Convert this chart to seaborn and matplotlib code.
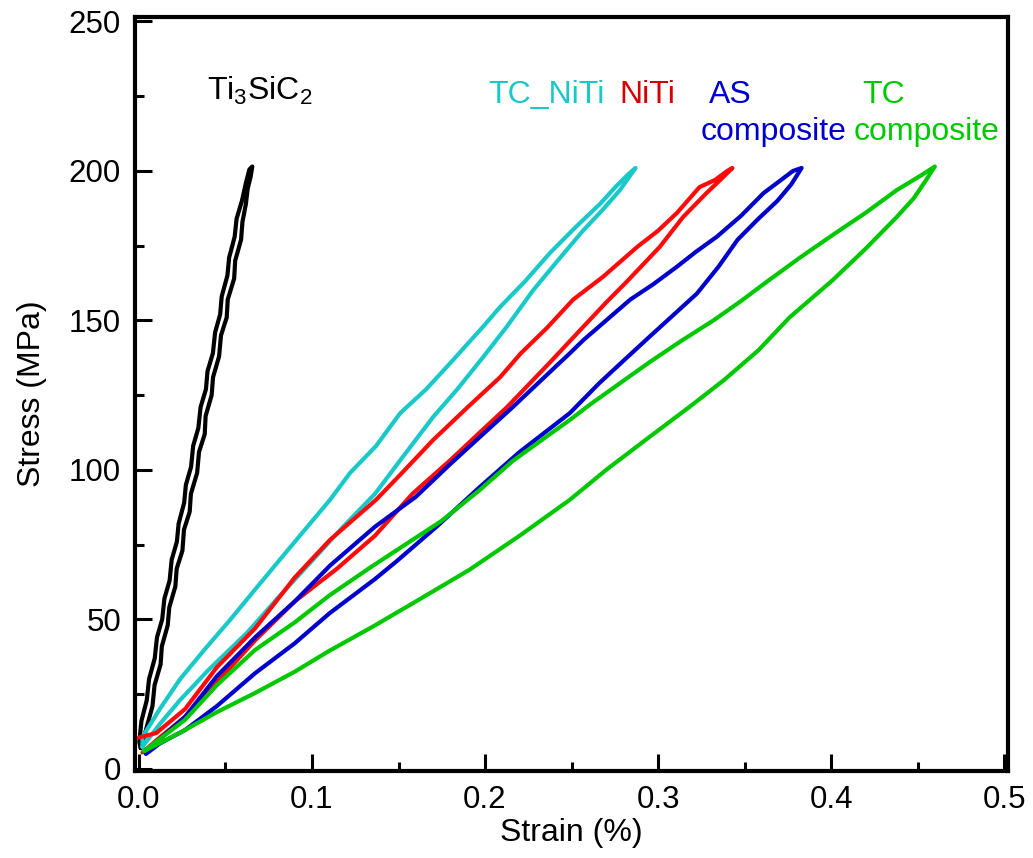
import matplotlib
matplotlib.use("Agg")
import matplotlib.pyplot as plt
from matplotlib.ticker import MultipleLocator, FormatStrFormatter
import seaborn as sns
import pandas as pd

# Stress-strain hysteresis loops: each path climbs the loading branch to the
# peak stress and returns along the unloading branch.
ti3sic2_strain = [0.001, 0.0040, 0.0078, 0.0090, 0.0125, 0.0132, 0.0166, 0.0175, 0.0210, 0.0218,
                  0.0251, 0.0260, 0.0293, 0.0300, 0.0336, 0.0347, 0.0380, 0.0385, 0.0420, 0.0428,
                  0.0463, 0.0474, 0.0507, 0.0513, 0.0550, 0.0556, 0.0590, 0.0598, 0.0618, 0.0628,
                  0.0645, 0.0655,
                  0.0638, 0.0618, 0.0595, 0.0564, 0.0553, 0.0521, 0.0511, 0.0478, 0.0469, 0.0440,
                  0.0427, 0.0396, 0.0387, 0.0356, 0.0343, 0.0313, 0.0301, 0.0271, 0.0261, 0.0229,
                  0.0219, 0.0189, 0.0177, 0.0147, 0.0134, 0.0104, 0.0091, 0.0058, 0.0045, 0.0014,
                  0.0002, 0.001]
ti3sic2_stress = [7, 13, 21, 28, 35, 41, 48, 54, 61, 67,
                  73, 80, 86, 92, 99, 106, 112, 118, 125, 131,
                  138, 145, 151, 157, 164, 170, 177, 183, 189, 194,
                  198, 201.5,
                  200.5, 196, 190, 184, 178, 171, 165, 158, 152, 146,
                  139, 133, 127, 121, 114, 108, 101, 95, 89, 82,
                  76, 70, 63, 57, 50, 44, 37, 30, 23, 16,
                  9, 7]

tc_niti_strain = [0.002, 0.012, 0.0237, 0.040, 0.0624, 0.080, 0.1006, 0.118, 0.1364, 0.152,
                  0.170, 0.184, 0.199, 0.2127, 0.2277, 0.242, 0.2566, 0.268, 0.278, 0.287,
                  0.283, 0.276, 0.2665, 0.252, 0.2376, 0.223, 0.2087, 0.199, 0.180, 0.166,
                  0.151, 0.137, 0.122, 0.1104, 0.093, 0.080, 0.0671, 0.0526, 0.038, 0.0237,
                  0.012, 0.002, 0.002]
tc_niti_stress = [7.4, 15, 23, 33, 45.5, 57, 70, 81, 92, 104,
                  117.7, 127, 137.8, 148, 160, 170, 180, 187, 193.6, 201,
                  199, 195, 189, 181, 172.6, 163, 154.5, 148, 135.8, 127,
                  119, 108, 99, 90, 78, 69, 60, 49.8, 40, 30,
                  20, 10.7, 7.4]

niti_strain = [0.002, 0.012, 0.0266, 0.045, 0.0671, 0.090, 0.1145, 0.1364, 0.158, 0.180,
               0.196, 0.2127, 0.2376, 0.257, 0.270, 0.282, 0.301, 0.3145, 0.328, 0.336,
               0.343,
               0.340, 0.333, 0.324, 0.311, 0.300, 0.288, 0.268, 0.251, 0.2358, 0.2207,
               0.2087, 0.190, 0.170, 0.152, 0.137, 0.1104, 0.090, 0.0671, 0.045, 0.0266,
               0.010, 0.000]
niti_stress = [5.5, 10.5, 17.4, 29, 43, 56, 67, 78, 92, 103.3,
               112, 121, 136, 148, 156, 163, 174.6, 184.6, 192.6, 197,
               201,
               200, 197, 194.6, 186, 180, 174.6, 164.5, 157, 147.5, 139,
               131, 121, 110, 99, 90, 76.6, 64, 47, 34, 20,
               12, 10.5]

as_comp_strain = [0.004, 0.012, 0.0266, 0.045, 0.0671, 0.090, 0.110, 0.1364, 0.149, 0.172,
                  0.197, 0.220, 0.249, 0.266, 0.280, 0.295, 0.3225, 0.335, 0.346, 0.358,
                  0.369, 0.377, 0.383,
                  0.378, 0.370, 0.361, 0.348, 0.334, 0.322, 0.311, 0.297, 0.284, 0.270,
                  0.257, 0.249, 0.2376, 0.216, 0.197, 0.180, 0.160, 0.1364, 0.1104, 0.090,
                  0.0671, 0.045, 0.0266, 0.012, 0.004]
as_comp_stress = [5, 8.5, 13, 21, 32, 42, 52, 63.5, 69.5, 81,
                  94.3, 106, 119, 129, 136.5, 144.5, 159, 168, 177, 184,
                  190, 195.5, 201,
                  200, 196.5, 192.6, 185, 178, 173, 168, 162, 157, 150,
                  143.5, 139, 132.8, 121, 111, 102, 91, 81, 68, 56,
                  44, 31, 17.4, 10, 6]

tc_comp_strain = [0.003, 0.015, 0.0266, 0.045, 0.0671, 0.090, 0.110, 0.1364, 0.160, 0.191,
                  0.220, 0.249, 0.270, 0.295, 0.318, 0.338, 0.358, 0.376, 0.390, 0.401,
                  0.420, 0.438, 0.448, 0.455, 0.460,
                  0.452, 0.438, 0.420, 0.401, 0.382, 0.363, 0.348, 0.332, 0.313, 0.295,
                  0.278, 0.261, 0.249, 0.2376, 0.216, 0.197, 0.175, 0.134, 0.110, 0.090,
                  0.0671, 0.045, 0.0266, 0.012, 0.003]
tc_comp_stress = [6, 9.5, 13, 19, 25.4, 32.5, 39.5, 48, 56, 66.6,
                  78, 90, 100, 111, 121, 130, 140, 151, 158, 163.5,
                  174, 184.6, 191, 197, 201.5,
                  198.5, 193.6, 186, 178.6, 171, 163, 156.5, 150, 143, 136,
                  129, 122, 116.7, 112, 103, 93.3, 83, 67.5, 58, 49,
                  39.8, 28, 16.4, 10, 6]

samples = ["Ti3SiC2", "TC_NiTi", "NiTi", "AS composite", "TC composite"]
line_colors = ["#000000", "#19c8c8", "#ff0a0a", "#0000cc", "#00c800"]

x_ticks = [0.0, 0.1, 0.2, 0.3, 0.4, 0.5]
y_ticks = [0, 50, 100, 150, 200, 250]

curves = {
    "Ti3SiC2": (ti3sic2_strain, ti3sic2_stress),
    "TC_NiTi": (tc_niti_strain, tc_niti_stress),
    "NiTi": (niti_strain, niti_stress),
    "AS composite": (as_comp_strain, as_comp_stress),
    "TC composite": (tc_comp_strain, tc_comp_stress),
}

frames = []
for name in samples:
    sx, sy = curves[name]
    frames.append(pd.DataFrame({"strain": sx, "stress": sy, "sample": name,
                                "step": range(len(sx))}))
df = pd.concat(frames, ignore_index=True)

sns.set_style("white")
plt.rcParams["font.family"] = ["Liberation Sans", "DejaVu Sans"]
plt.rcParams["mathtext.default"] = "regular"
plt.rcParams["text.color"] = "black"
plt.rcParams["axes.labelcolor"] = "black"
plt.rcParams["xtick.color"] = "black"
plt.rcParams["ytick.color"] = "black"

fig = plt.figure(figsize=(10.33, 8.58), dpi=100)
ax = fig.add_axes([0.1307, 0.1014, 0.8451, 0.8788])

sns.lineplot(data=df, x="strain", y="stress", hue="sample", units="sample",
             estimator=None, sort=False, palette=dict(zip(samples, line_colors)),
             linewidth=3.0, legend=False, ax=ax)

ax.set_xlim(-0.0023, 0.5023)
ax.set_ylim(-0.7, 251.5)
ax.set_xticks(x_ticks)
ax.set_yticks(y_ticks)
ax.xaxis.set_major_formatter(FormatStrFormatter("%.1f"))
ax.xaxis.set_minor_locator(MultipleLocator(0.05))
ax.yaxis.set_minor_locator(MultipleLocator(25))

for side in ["left", "right", "top", "bottom"]:
    ax.spines[side].set_visible(True)
    ax.spines[side].set_linewidth(3)
    ax.spines[side].set_color("black")

ax.tick_params(which="both", direction="in", bottom=True, left=True, top=False, right=False,
               width=2.2, color="black", labelcolor="black", labelsize=22.5, pad=10)
ax.tick_params(which="major", length=12)
ax.tick_params(which="minor", length=6.5)

ax.set_xlabel("Strain (%)", fontsize=23, labelpad=2, color="black")
ax.set_ylabel("Stress (MPa)", fontsize=23, labelpad=16, color="black")

fs = 23
ax.text(0.070, 223.7, "Ti$_3$SiC$_2$", color="black", fontsize=fs, ha="center", va="baseline")
ax.text(0.2353, 222.7, "TC_NiTi", color="#19c8c8", fontsize=fs, ha="center", va="baseline")
ax.text(0.2936, 222.7, "NiTi", color="#d40000", fontsize=fs, ha="center", va="baseline")
ax.text(0.3416, 222.7, "AS", color="#0000cc", fontsize=fs, ha="center", va="baseline")
ax.text(0.367, 210.4, "composite", color="#0000cc", fontsize=fs, ha="center", va="baseline")
ax.text(0.4306, 222.7, "TC", color="#00c800", fontsize=fs, ha="center", va="baseline")
ax.text(0.4555, 210.4, "composite", color="#00c800", fontsize=fs, ha="center", va="baseline")

fig.savefig("out.png", dpi=100)
